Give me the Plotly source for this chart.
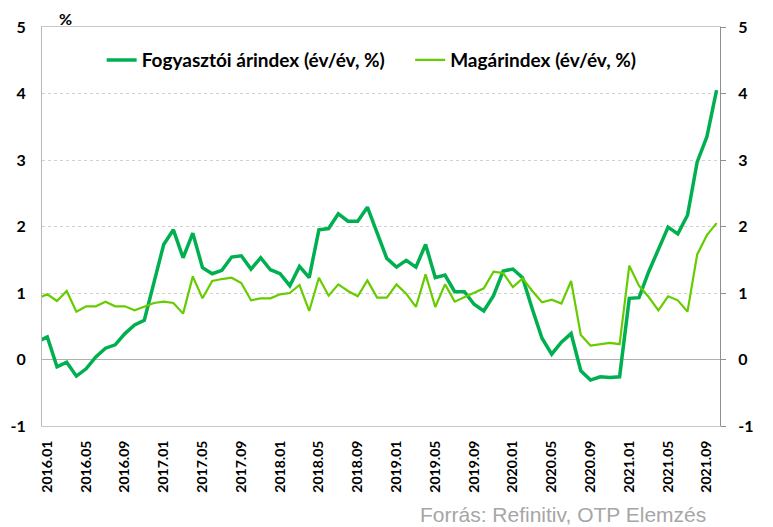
import plotly.graph_objects as go

# Month categories 2015.12 .. 2021.10 (2015.12 only feeds the clipped first segment)
months = ["2015.12"] + [f"{y}.{m:02d}" for y in range(2016, 2022) for m in range(1, 13)]
months = months[: months.index("2021.10") + 1]

cpi = [0.27,
       0.34, -0.11, -0.04, -0.25, -0.14, 0.04, 0.17, 0.22, 0.39, 0.52, 0.59, 1.16,
       1.73, 1.95, 1.53, 1.90, 1.38, 1.29, 1.34, 1.54, 1.56, 1.36, 1.53, 1.35,
       1.29, 1.11, 1.40, 1.23, 1.95, 1.97, 2.19, 2.08, 2.08, 2.29, 1.89, 1.52,
       1.39, 1.49, 1.39, 1.73, 1.23, 1.27, 1.02, 1.02, 0.83, 0.73, 0.96, 1.33,
       1.36, 1.23, 0.76, 0.32, 0.08, 0.26, 0.39, -0.17, -0.31, -0.26, -0.27, -0.26,
       0.92, 0.93, 1.32, 1.64, 1.99, 1.89, 2.17, 2.97, 3.35, 4.05]

core = [0.92,
        0.98, 0.88, 1.03, 0.72, 0.80, 0.80, 0.87, 0.80, 0.80, 0.74, 0.79, 0.85,
        0.87, 0.85, 0.69, 1.25, 0.92, 1.18, 1.21, 1.23, 1.15, 0.89, 0.92, 0.92,
        0.98, 1.00, 1.12, 0.73, 1.23, 0.96, 1.13, 1.03, 0.95, 1.19, 0.93, 0.93,
        1.13, 0.99, 0.79, 1.28, 0.79, 1.13, 0.87, 0.94, 1.01, 1.07, 1.32, 1.30,
        1.09, 1.22, 1.03, 0.86, 0.90, 0.84, 1.18, 0.37, 0.21, 0.23, 0.25, 0.23,
        1.41, 1.11, 0.94, 0.74, 0.95, 0.89, 0.72, 1.58, 1.87, 2.05]

tick_labels = [m for m in months if m >= "2016.01" and m.endswith((".01", ".05", ".09"))]
y_ticks = [-1, 0, 1, 2, 3, 4, 5]

name_cpi = "Fogyasztói árindex (év/év, %)"
name_core = "Magárindex (év/év, %)"

FONT = "Lato"
DARK = "#00B050"
LIGHT = "#66CC00"

fig = go.Figure()
fig.add_trace(go.Scatter(x=months, y=cpi, mode="lines", name=name_cpi,
                         line=dict(color=DARK, width=3.5), legend="legend"))
fig.add_trace(go.Scatter(x=months, y=core, mode="lines", name=name_core,
                         line=dict(color=LIGHT, width=2.2), legend="legend2"))
# invisible trace to activate the right axis
fig.add_trace(go.Scatter(x=[months[1]], y=[None], yaxis="y2", showlegend=False,
                         hoverinfo="skip"))

# the page body adds an 8px offset, so the figure is laid out 8px up/left
fig.update_layout(
    template="none",
    width=773, height=527,
    margin=dict(l=34, r=61, t=19, b=109, autoexpand=False),
    paper_bgcolor="white", plot_bgcolor="white",
    font=dict(family=FONT, color="#000000"),
    xaxis=dict(
        type="category", range=[0.454, 70.35], automargin=False,
        tickmode="array", tickvals=tick_labels, ticktext=tick_labels,
        tickangle=-90, tickfont=dict(size=14, family=FONT, weight="bold"),
        ticks="outside", ticklen=8, tickcolor="rgba(0,0,0,0)",
        showgrid=False, showline=True, mirror=True, linecolor="#c8c8c8", linewidth=1,
        zeroline=False,
    ),
    yaxis=dict(
        range=[-1, 5], automargin=False,
        tickvals=y_ticks, ticktext=[str(v) for v in y_ticks],
        tickfont=dict(size=16, family=FONT, weight="bold"),
        ticks="outside", ticklen=12, tickcolor="rgba(0,0,0,0)",
        showgrid=True, gridcolor="#d0d0d0", griddash="3px,3px", gridwidth=1,
        zeroline=True, zerolinecolor="#b0b0b0", zerolinewidth=1.2,
        showline=True, linecolor="#b8b8b8", linewidth=1.2,
    ),
    yaxis2=dict(
        overlaying="y", side="right", range=[-1, 5], automargin=False,
        tickvals=y_ticks, ticktext=[str(v) for v in y_ticks],
        tickfont=dict(size=16, family=FONT, weight="bold"),
        ticks="outside", ticklen=5, tickcolor="#909090", ticklabelstandoff=9,
        showgrid=False, zeroline=False,
        showline=True, linecolor="#909090", linewidth=1.2,
    ),
    legend=dict(x=0.088, y=0.917, xanchor="left", yanchor="middle",
                bgcolor="rgba(0,0,0,0)", itemwidth=30,
                font=dict(size=19, family=FONT, weight="bold")),
    legend2=dict(x=0.543, y=0.917, xanchor="left", yanchor="middle",
                 bgcolor="rgba(0,0,0,0)", itemwidth=30,
                 font=dict(size=19, family=FONT, weight="bold")),
    showlegend=True,
)

fig.add_annotation(text="%", xref="paper", yref="paper", x=(65 - 42) / 678,
                   y=(426 - 18) / 399, showarrow=False, xanchor="center", yanchor="middle",
                   font=dict(size=16, family=FONT, weight="bold"))
fig.add_annotation(text="Forrás: Refinitiv, OTP Elemzés", xref="paper", yref="paper",
                   x=(708 - 42) / 678, y=(426 - 514) / 399, showarrow=False,
                   xanchor="right", yanchor="middle",
                   font=dict(size=21, family="Liberation Sans", color="#a6a6a6"))
fig.add_shape(type="line", xref="paper", yref="paper",
              x0=-42 / 678, x1=731 / 678, y0=(426 - 5) / 399, y1=(426 - 5) / 399,
              line=dict(color="#cfcfcf", width=1.5))

fig.write_html("out.html")
